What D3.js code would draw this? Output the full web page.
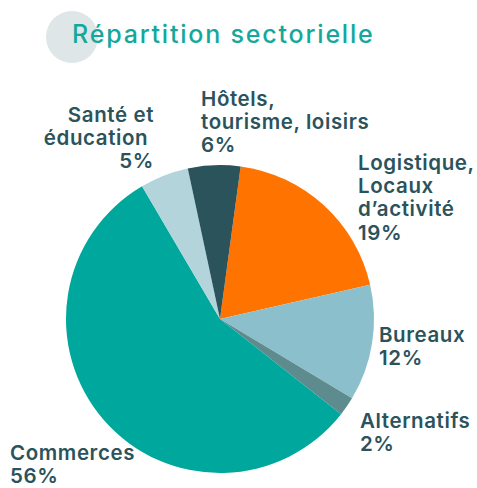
<!DOCTYPE html>
<html>
<head>
<meta charset="utf-8">
<script src="https://cdn.jsdelivr.net/npm/d3@7"></script>
<style>
  body { margin: 0; background: #fff; }
  svg text { font-family: Inter, "Noto Sans", sans-serif; }
</style>
</head>
<body>
<div id="chart"></div>
<script>
const sectors = ["Logistique, Locaux d’activité", "Bureaux", "Alternatifs", "Commerces", "Santé et éducation", "Hôtels, tourisme, loisirs"];
const shares = [19.3, 12.2, 2.0, 56.0, 5.1, 5.5];
const labelLines = [
  ["Logistique,", "Locaux", "d’activité"],
  ["Bureaux"],
  ["Alternatifs"],
  ["Commerces"],
  ["Santé et", "éducation\u00a0"],
  ["Hôtels,", "tourisme, loisirs"]
];
const colors = ["#ff7300", "#8bbfcc", "#5e8b8d", "#00a79d", "#b2d4da", "#2a535b"];

// label anchor spots [x, y of first baseline, text-anchor]
const labelPos = [
  [358, 170, "start"],
  [379, 342, "start"],
  [360, 428, "start"],
  [10, 460, "start"],
  [154, 122, "end"],
  [201, 106, "start"]
];

const width = 477, height = 488;
const cx = 220, cy = 319, radius = 154;
const lineH = 23.2;

const svg = d3.select("#chart").append("svg")
    .attr("width", width)
    .attr("height", height);

// title
svg.append("circle")
    .attr("cx", 72).attr("cy", 37).attr("r", 26)
    .style("fill", "#dee6e8");
svg.append("text")
    .attr("x", 72).attr("y", 43)
    .style("font-size", "25px")
    .style("font-weight", 500)
    .style("letter-spacing", "1.8px")
    .style("fill", "#14a89c")
    .text("Répartition sectorielle");

const start = 7.7 * Math.PI / 180;
const pie = d3.pie()
    .sort(null)
    .startAngle(start)
    .endAngle(start + 2 * Math.PI);

const arc = d3.arc().innerRadius(0).outerRadius(radius);

const g = svg.append("g").attr("transform", `translate(${cx},${cy})`);

g.selectAll("path")
    .data(pie(shares))
    .enter()
    .append("path")
      .attr("d", arc)
      .style("fill", function(d, i) { return colors[i]; });

const labels = svg.append("g").attr("class", "labels");

sectors.forEach(function(name, i) {
    const pos = labelPos[i];
    const lines = labelLines[i].concat([Math.round(shares[i]) + "%"]);
    const t = labels.append("text")
        .attr("text-anchor", pos[2])
        .style("font-size", "20.5px")
        .style("font-weight", 600)
        .style("letter-spacing", "0.6px")
        .style("fill", "#2b535b");
    lines.forEach(function(l, j) {
        t.append("tspan")
            .attr("x", pos[0])
            .attr("y", pos[1] + j * lineH)
            .text(l);
    });
});
</script>
</body>
</html>
